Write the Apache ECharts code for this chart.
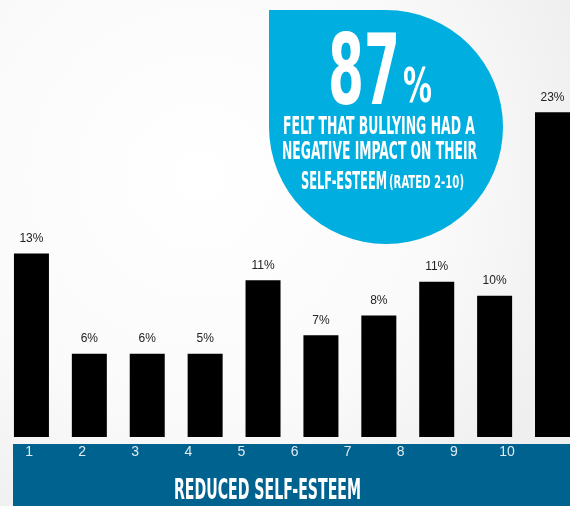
<!DOCTYPE html>
<html><head><meta charset="utf-8">
<script src="https://cdn.jsdelivr.net/npm/echarts@6/dist/echarts.min.js"></script>
<style>html,body{margin:0;padding:0;background:#fff}#c{width:570px;height:506px}</style>
</head><body><div id="c"></div>
<script>
const categories = ['1','2','3','4','5','6','7','8','9','10'];
const values = [13.0, 5.9, 5.9, 5.9, 11.1, 7.2, 8.6, 11.0, 10.0, 23.0];
const valueLabels = ['13%','6%','6%','5%','11%','7%','8%','11%','10%','23%'];
const axisTitle = 'REDUCED SELF-ESTEEM';
const bigStat = '87';
const bigStatUnit = '%';
const statLines = ['FELT THAT BULLYING HAD A', 'NEGATIVE IMPACT ON THEIR', 'SELF-ESTEEM'];
const statNote = '(RATED 2-10)';

const COND = '"Liberation Sans Narrow", "DejaVu Sans Condensed", Roboto, sans-serif';
const SANS = '"Liberation Sans", Arial, sans-serif';
const cv = document.createElement('canvas').getContext('2d');
function fitText(text, size, left, cy, width) {
  cv.font = 'bold ' + size + 'px ' + COND;
  const w = cv.measureText(text).width;
  return {
    type: 'text', x: left, y: cy, scaleX: width / w, z: 10,
    style: { text: text, fill: '#fff', font: 'bold ' + size + 'px ' + COND, align: 'left', verticalAlign: 'middle' }
  };
}

// bars sit on a numeric position axis (index of each category); the plot runs past the right edge
const barData = values.map((v, i) => [i, v]);

const chart = echarts.init(document.getElementById('c'), null, {renderer: 'canvas'});
chart.setOption({
  animation: false,
  grid: [
    {left: 2.5, right: 0, top: 84, bottom: 69},
    {left: 2.5, width: 531, top: 84, bottom: 65}
  ],
  xAxis: [
    {type: 'value', gridIndex: 0, min: -0.5, max: 9.302, show: false, splitLine: {show: false}},
    {type: 'category', gridIndex: 1, data: categories, axisLine: {show: false}, axisTick: {show: false},
     axisLabel: {color: '#e2e9ef', fontSize: 14, fontFamily: SANS, margin: 4}}
  ],
  yAxis: [
    {type: 'value', gridIndex: 0, min: 0, max: 25, show: false},
    {type: 'value', gridIndex: 1, min: 0, max: 1, show: false}
  ],
  series: [{
    type: 'bar', xAxisIndex: 0, yAxisIndex: 0, data: barData, barWidth: 35,
    itemStyle: {color: '#000'},
    label: {show: true, position: 'top', distance: 9, color: '#222', fontSize: 12,
      fontFamily: SANS,
      formatter: p => valueLabels[p.dataIndex]}
  }],
  graphic: [
    {type: 'rect', shape: {x: 0, y: 0, width: 570, height: 506}, z: -10,
     style: {fill: new echarts.graphic.RadialGradient(0.35, 0.35, 0.8, [
       {offset: 0, color: '#ffffff'}, {offset: 0.6, color: '#fafafa'}, {offset: 1, color: '#efefef'}])}},
    {type: 'rect', shape: {x: 13, y: 444, width: 557, height: 62}, z: -5, style: {fill: '#00628e'}},
    fitText(axisTitle, 28, 174, 492, 187),
    {type: 'circle', shape: {cx: 386, cy: 127, r: 117}, z: 5, style: {fill: '#00aedf'}},
    {type: 'rect', shape: {x: 269, y: 10, width: 117, height: 117}, z: 5, style: {fill: '#00aedf'}},
    fitText(bigStat, 98, 328, 79, 72),
    fitText(bigStatUnit, 48, 403, 90, 29),
    fitText(statLines[0], 24, 283, 128, 192),
    fitText(statLines[1], 24, 282, 153, 195),
    fitText(statLines[2], 25, 301, 182, 86),
    fitText(statNote, 18, 389, 183, 75)
  ]
});
</script></body></html>
